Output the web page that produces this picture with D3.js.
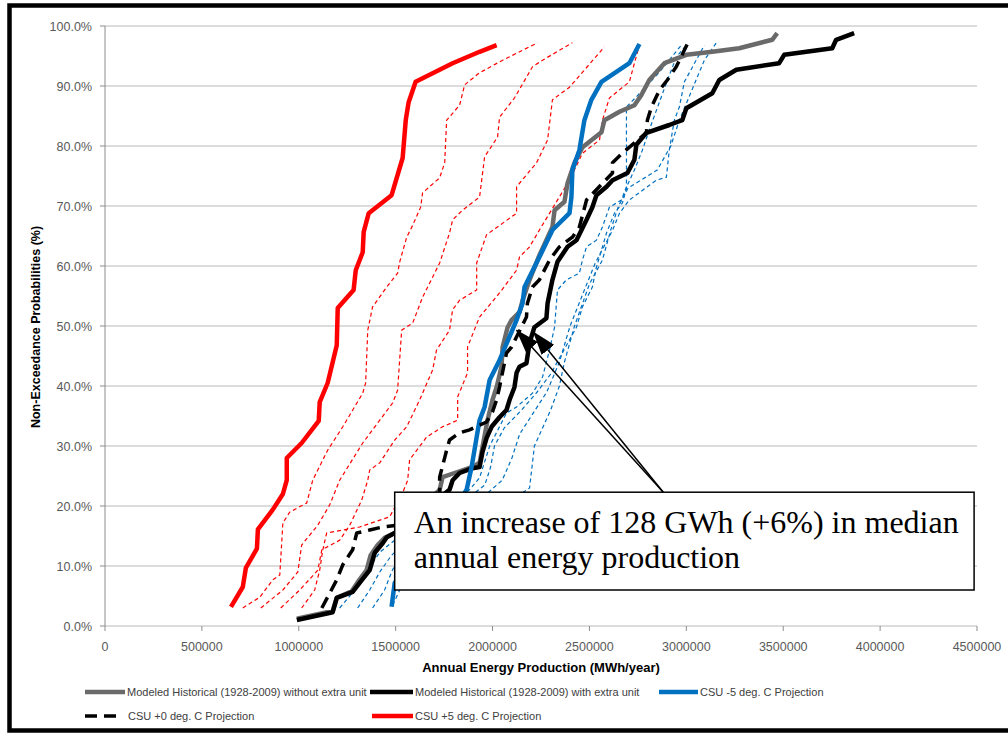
<!DOCTYPE html>
<html lang="en">
<head>
<meta charset="UTF-8">
<title>Annual Energy Production - Non-Exceedance</title>
<script src="https://d3js.org/d3.v7.min.js"></script>
<style>
  body { margin: 0; background: #fff; }
  svg { display: block; }
  .tick-label { font-family: "Liberation Sans", Arial, sans-serif; font-size: 12.5px; fill: #595959; }
  .axis-title { font-family: "Liberation Sans", Arial, sans-serif; font-weight: bold; fill: #000; }
  .legend text { font-family: "Liberation Sans", Arial, sans-serif; font-size: 11px; fill: #404040; }
  .note { font-family: "Liberation Serif", "Times New Roman", serif; font-size: 32px; fill: #000; }
</style>
</head>
<body>
<svg id="chart" width="1008" height="734"></svg>
<script>
// tick values
const xTicks = [0, 500000, 1000000, 1500000, 2000000, 2500000, 3000000, 3500000, 4000000, 4500000];
const yTicks = [0, 10, 20, 30, 40, 50, 60, 70, 80, 90, 100];

// [annual energy (MWh/yr), non-exceedance (%)]
const histWithout = [[990000,1.2],[1175000,2.5],[1196000,4.7],[1273000,5.8],[1304000,7.3],[1350000,9.3],[1371000,11.8],[1407000,13.5],[1443000,14.7],[1495000,15.5],[1727000,22.7],[1742000,24.8],[1804000,25.5],[1897000,26.5],[1933000,27.2],[1948000,29.8],[1974000,34.3],[2000000,37.7],[2021000,39.8],[2046000,43.2],[2052000,46.5],[2077000,49.7],[2098000,51.0],[2139000,52.3],[2155000,54.3],[2191000,57.7],[2242000,61.8],[2309000,66.5],[2320000,69.3],[2371000,70.7],[2387000,73.8],[2423000,77.2],[2464000,79.8],[2562000,82.3],[2577000,84.3],[2655000,85.7],[2732000,86.8],[2768000,88.5],[2809000,91.0],[2887000,93.8],[3000000,95.2],[3134000,95.7],[3273000,96.3],[3443000,97.7],[3469000,98.8]];
const histWith = [[990000,1.0],[1175000,2.3],[1196000,4.7],[1278000,5.7],[1314000,7.2],[1366000,9.3],[1392000,12.2],[1433000,13.8],[1454000,14.8],[1495000,15.5],[1778000,22.7],[1794000,24.3],[1830000,25.5],[1897000,26.3],[1933000,26.5],[1948000,29.0],[1969000,31.3],[1995000,33.2],[2036000,34.8],[2072000,36.0],[2088000,37.7],[2113000,39.8],[2124000,42.2],[2139000,43.2],[2175000,43.8],[2191000,47.2],[2216000,49.8],[2278000,51.3],[2284000,53.8],[2309000,57.7],[2335000,60.7],[2387000,63.2],[2433000,64.3],[2485000,67.7],[2515000,69.8],[2536000,71.8],[2588000,73.2],[2619000,74.3],[2696000,75.5],[2732000,77.7],[2742000,80.2],[2794000,82.2],[2912000,83.5],[2979000,84.3],[3000000,86.3],[3134000,88.8],[3170000,91.0],[3258000,92.7],[3479000,93.8],[3505000,95.2],[3753000,96.3],[3773000,97.7],[3866000,98.8]];
const csuMinus5 = [[1479000,3.2],[1495000,7.2],[1856000,22.2],[1866000,22.7],[1892000,26.5],[1918000,31.5],[1933000,34.3],[1959000,36.5],[1985000,41.0],[2036000,44.3],[2124000,51.0],[2155000,53.8],[2165000,56.5],[2242000,61.5],[2309000,66.0],[2397000,68.8],[2407000,71.5],[2412000,76.0],[2448000,79.3],[2474000,84.3],[2510000,87.7],[2562000,90.7],[2706000,93.8],[2758000,97.0]];
const csuPlus0 = [[1119000,3.0],[1160000,5.5],[1196000,7.7],[1227000,10.2],[1278000,12.7],[1299000,15.5],[1366000,16.0],[1433000,16.5],[1510000,16.8],[1727000,22.2],[1727000,24.8],[1763000,29.3],[1778000,31.0],[1830000,32.2],[1881000,32.7],[1969000,34.0],[2000000,35.7],[2021000,37.7],[2036000,39.8],[2072000,45.5],[2098000,46.5],[2175000,51.5],[2180000,53.8],[2206000,56.5],[2242000,57.7],[2294000,61.0],[2345000,63.2],[2412000,64.8],[2448000,66.5],[2485000,71.0],[2619000,75.5],[2619000,77.2],[2670000,78.8],[2794000,82.2],[2799000,84.3],[2820000,86.5],[2845000,88.2],[2861000,89.3],[2902000,91.0],[2948000,93.2],[3005000,97.0]];
const csuPlus5 = [[650000,3.2],[711000,6.5],[727000,9.7],[784000,12.9],[789000,16.1],[866000,19.4],[918000,22.0],[938000,24.3],[938000,28.0],[1015000,30.5],[1103000,34.2],[1108000,37.3],[1149000,40.5],[1196000,46.8],[1201000,53.0],[1283000,56.0],[1294000,59.3],[1330000,62.3],[1335000,65.7],[1361000,68.8],[1479000,71.8],[1536000,78.0],[1552000,84.3],[1567000,87.3],[1603000,90.7],[1794000,93.8],[1933000,95.7],[2021000,96.8]];

// thin dashed red projections (warmer, unlabelled)
const warm1 = [[711000,3.0],[799000,4.8],[866000,7.7],[902000,8.5],[918000,17.2],[954000,19.0],[1041000,20.5],[1072000,24.3],[1149000,29.3],[1227000,33.2],[1330000,38.8],[1345000,40.5],[1356000,49.3],[1381000,53.2],[1454000,56.5],[1510000,58.8],[1521000,60.7],[1557000,64.8],[1588000,66.8],[1629000,69.8],[1639000,72.2],[1727000,74.7],[1753000,77.2],[1763000,84.3],[1830000,86.8],[1856000,90.2],[1933000,92.2],[2052000,94.3],[2232000,97.2]];
const warm2 = [[804000,3.0],[918000,6.0],[995000,9.0],[1015000,13.5],[1098000,16.8],[1160000,20.2],[1211000,24.3],[1330000,30.5],[1485000,37.2],[1510000,39.3],[1531000,49.3],[1588000,50.5],[1639000,54.8],[1727000,60.5],[1778000,65.5],[1794000,67.7],[1845000,69.3],[1933000,71.5],[1959000,78.2],[2026000,81.5],[2036000,84.8],[2113000,88.0],[2206000,93.2],[2258000,94.3],[2412000,97.2]];
const warm3 = [[907000,3.0],[1005000,6.0],[1098000,9.3],[1119000,12.7],[1211000,14.3],[1263000,16.8],[1325000,21.0],[1356000,24.3],[1366000,26.0],[1418000,27.2],[1495000,31.0],[1557000,33.2],[1624000,37.7],[1691000,42.7],[1711000,46.0],[1778000,49.3],[1794000,52.7],[1830000,54.3],[1918000,56.0],[1918000,60.5],[1969000,65.2],[2124000,68.8],[2124000,73.2],[2227000,77.2],[2284000,81.0],[2309000,87.7],[2397000,89.8],[2577000,96.5]];
const warm4 = [[1015000,3.0],[1082000,6.0],[1108000,9.3],[1124000,12.7],[1144000,15.5],[1314000,16.5],[1469000,18.2],[1536000,22.2],[1562000,24.3],[1572000,27.7],[1660000,31.5],[1742000,33.2],[1820000,34.3],[1820000,38.2],[1871000,42.2],[1871000,46.5],[1933000,51.5],[2036000,55.5],[2124000,59.3],[2139000,61.5],[2191000,63.2],[2242000,66.0],[2397000,74.3],[2464000,78.8],[2552000,81.0],[2567000,84.3],[2603000,88.0],[2706000,90.7],[2732000,93.8],[2758000,96.8]];

// thin dashed blue projections (cooler, unlabelled)
const cool1 = [[1211000,3.0],[1289000,6.0],[1356000,9.3],[1418000,12.3],[1495000,14.3],[1675000,18.5],[1881000,22.7],[1933000,24.7],[1985000,30.0],[2072000,35.5],[2124000,36.5],[2206000,38.8],[2258000,41.5],[2294000,46.0],[2320000,49.8],[2335000,56.0],[2381000,57.7],[2448000,58.8],[2464000,61.0],[2485000,63.2],[2536000,64.3],[2567000,66.5],[2603000,69.8],[2665000,71.0],[2691000,73.2],[2691000,86.5],[2742000,88.2],[2861000,92.3],[2979000,97.0]];
const cool2 = [[1304000,3.0],[1366000,6.0],[1418000,9.0],[1479000,11.8],[1624000,16.0],[1830000,20.2],[1960000,23.5],[1990000,26.5],[2010000,30.0],[2060000,33.0],[2150000,36.0],[2230000,39.0],[2300000,42.0],[2433000,49.8],[2464000,53.2],[2515000,56.5],[2536000,59.8],[2567000,63.2],[2588000,65.5],[2629000,68.8],[2670000,70.5],[2696000,73.5],[2732000,76.0],[2773000,79.3],[2809000,82.7],[2897000,90.5],[2948000,94.8],[3005000,97.0]];
const cool3 = [[1381000,3.0],[1443000,6.0],[1479000,9.0],[1521000,11.8],[1727000,16.8],[1933000,21.0],[2050000,24.3],[2100000,28.0],[2140000,32.0],[2200000,35.0],[2280000,39.0],[2345000,44.0],[2400000,50.0],[2480000,56.5],[2530000,60.5],[2620000,66.0],[2655000,68.8],[2706000,71.0],[2845000,74.3],[2897000,74.8],[2912000,79.3],[2938000,84.3],[2964000,86.5],[2990000,90.7],[3093000,96.8]];
const cool4 = [[1485000,3.5],[1521000,6.0],[1572000,8.5],[1727000,13.5],[1985000,18.5],[2191000,23.0],[2216000,30.0],[2300000,36.0],[2345000,40.0],[2371000,44.0],[2423000,50.0],[2500000,57.0],[2567000,61.0],[2610000,66.0],[2650000,70.0],[2700000,73.0],[2850000,76.0],[2920000,80.0],[2964000,84.3],[3040000,90.2],[3093000,94.3],[3155000,97.2]];

// annotation anchors in data units
const noteLines = ["An increase of 128 GWh (+6%) in median", "annual energy production"];
const noteBox = { x0: 1495000, x1: 4485000, y0: 22.3, y1: 6.0 };
const arrowBase = [2881000, 22.3];
const arrowTips = [[2124000, 49.3], [2211000, 49.0]];

const svg = d3.select("#chart");
const x = d3.scaleLinear().domain([0, 4500000]).range([105, 977]);
const y = d3.scaleLinear().domain([0, 100]).range([626, 26]);

// gridlines
svg.append("g").selectAll("line")
  .data(yTicks)
  .enter().append("line")
  .attr("x1", x(0)).attr("x2", x(4500000))
  .attr("y1", d => y(d)).attr("y2", d => y(d))
  .attr("stroke", "#d0d0d0").attr("stroke-width", 1.3);

// y axis line
svg.append("line")
  .attr("x1", x(0)).attr("x2", x(0)).attr("y1", y(0)).attr("y2", y(100))
  .attr("stroke", "#8c8c8c").attr("stroke-width", 1);

// y tick marks + labels
svg.append("g").selectAll("line").data(yTicks).enter().append("line")
  .attr("x1", x(0) - 5).attr("x2", x(0))
  .attr("y1", d => y(d)).attr("y2", d => y(d))
  .attr("stroke", "#8c8c8c");
svg.append("g").selectAll("text").data(yTicks).enter().append("text")
  .attr("class", "tick-label")
  .attr("x", 92).attr("y", d => y(d) + 4.5)
  .attr("text-anchor", "end")
  .text(d => d.toFixed(1) + "%");

// x tick marks + labels
svg.append("g").selectAll("line").data(xTicks).enter().append("line")
  .attr("x1", d => x(d)).attr("x2", d => x(d))
  .attr("y1", y(0)).attr("y2", y(0) + 5)
  .attr("stroke", "#8c8c8c");
svg.append("g").selectAll("text").data(xTicks).enter().append("text")
  .attr("class", "tick-label")
  .attr("x", d => x(d)).attr("y", 651)
  .attr("text-anchor", "middle")
  .text(d => d);

// axis titles
svg.append("text").attr("class", "axis-title")
  .attr("x", (x(0) + x(4500000)) / 2).attr("y", 672)
  .attr("text-anchor", "middle")
  .style("font-size", "13px")
  .text("Annual Energy Production (MWh/year)");
svg.append("text").attr("class", "axis-title")
  .attr("transform", "translate(40," + (y(50) + 1) + ") rotate(-90)")
  .attr("text-anchor", "middle")
  .style("font-size", "12.5px")
  .text("Non-Exceedance Probabilities (%)");

const line = d3.line().x(d => x(d[0])).y(d => y(d[1]));

const thinSeries = [
  { data: warm1, color: "#ff0000" }, { data: warm2, color: "#ff0000" },
  { data: warm3, color: "#ff0000" }, { data: warm4, color: "#ff0000" },
  { data: cool1, color: "#0070c0" }, { data: cool2, color: "#0070c0" },
  { data: cool3, color: "#0070c0" }, { data: cool4, color: "#0070c0" }
];
thinSeries.forEach(s => {
  svg.append("path").datum(s.data)
    .attr("d", line)
    .attr("fill", "none")
    .attr("stroke", s.color)
    .attr("stroke-width", 1.2)
    .attr("stroke-dasharray", "4,3");
});

const mainSeries = [
  { name: "Modeled Historical (1928-2009) without extra unit", data: histWithout, color: "#6a6a6a", width: 4.5, dash: null },
  { name: "Modeled Historical (1928-2009) with extra unit", data: histWith, color: "#000000", width: 4.5, dash: null },
  { name: "CSU -5 deg. C Projection", data: csuMinus5, color: "#0070c0", width: 4.5, dash: null },
  { name: "CSU +0 deg. C Projection", data: csuPlus0, color: "#000000", width: 3.5, dash: "12,7" },
  { name: "CSU +5 deg. C Projection", data: csuPlus5, color: "#ff0000", width: 4.5, dash: null }
];
mainSeries.forEach(s => {
  svg.append("path").datum(s.data)
    .attr("d", line)
    .attr("fill", "none")
    .attr("stroke", s.color)
    .attr("stroke-width", s.width)
    .attr("stroke-linejoin", "round")
    .attr("stroke-dasharray", s.dash);
});

// legend
const legendPos = [[85, 692, 40], [370, 692, 43], [659, 692, 39], [85, 716, 31], [372, 716, 41]];
const legend = svg.append("g").attr("class", "legend");
mainSeries.forEach((s, i) => {
  const [lx, ly, lw] = legendPos[i];
  legend.append("line")
    .attr("x1", lx).attr("x2", lx + lw).attr("y1", ly).attr("y2", ly)
    .attr("stroke", s.color).attr("stroke-width", s.dash ? 3.5 : 4.5)
    .attr("stroke-dasharray", s.dash);
  legend.append("text")
    .attr("x", i === 3 ? 128 : lx + lw + 2).attr("y", ly + 4)
    .text(s.name);
});

// annotation box + arrows
const defs = svg.append("defs");
defs.append("marker")
  .attr("id", "head")
  .attr("markerUnits", "userSpaceOnUse")
  .attr("markerWidth", 24).attr("markerHeight", 16)
  .attr("refX", 23).attr("refY", 8)
  .attr("orient", "auto")
  .append("path").attr("d", "M0,0 L24,8 L0,16 Z").attr("fill", "#000");

arrowTips.forEach(t => {
  svg.append("line")
    .attr("x1", x(arrowBase[0])).attr("y1", y(arrowBase[1]))
    .attr("x2", x(t[0])).attr("y2", y(t[1]))
    .attr("stroke", "#000").attr("stroke-width", 1.5)
    .attr("marker-end", "url(#head)");
});

svg.append("rect")
  .attr("x", x(noteBox.x0)).attr("y", y(noteBox.y0))
  .attr("width", x(noteBox.x1) - x(noteBox.x0))
  .attr("height", y(noteBox.y1) - y(noteBox.y0))
  .attr("fill", "#fff").attr("stroke", "#000").attr("stroke-width", 1.5);

noteLines.forEach((t, i) => {
  svg.append("text").attr("class", "note")
    .attr("x", x(noteBox.x0) + 19)
    .attr("y", y(noteBox.y0) + 41 + i * 35)
    .text(t);
});

// outer frame
svg.append("rect")
  .attr("x", 9.5).attr("y", 5.5).attr("width", 1010).attr("height", 725)
  .attr("fill", "none").attr("stroke", "#000").attr("stroke-width", 4.5);
</script>
</body>
</html>
